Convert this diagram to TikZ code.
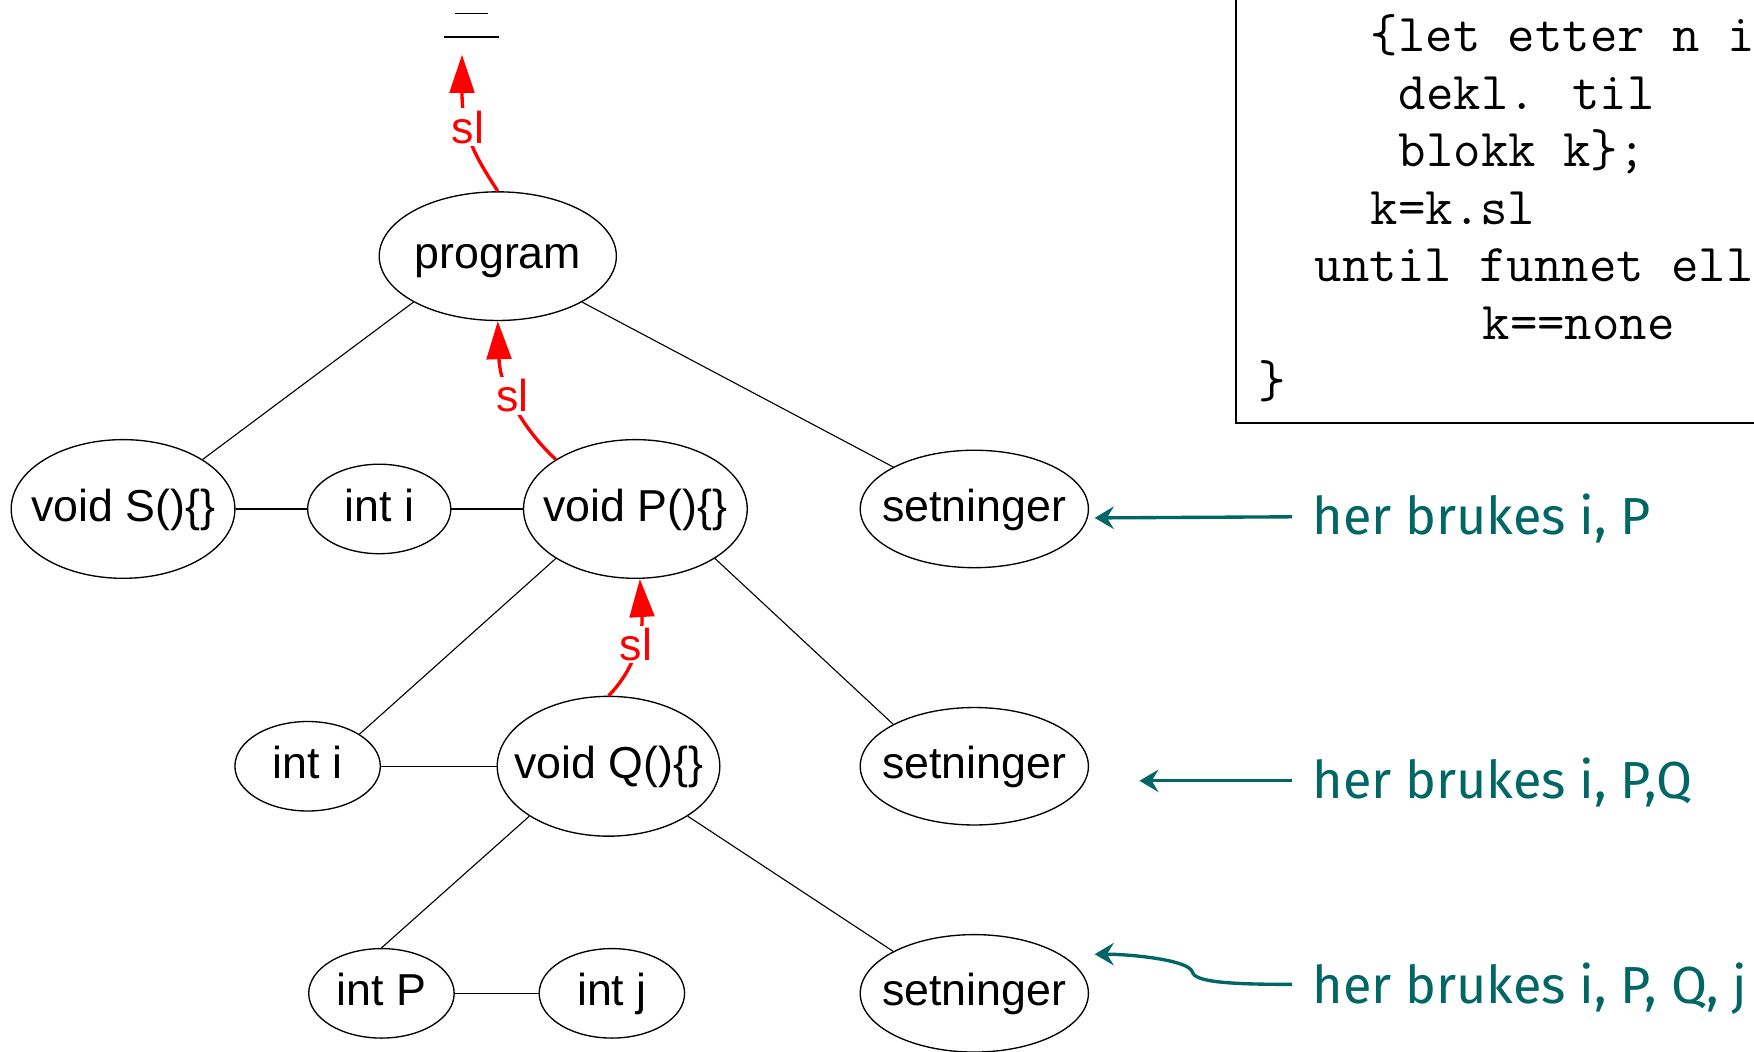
\documentclass[tikz,border=0pt]{standalone}
\usepackage{fontspec}
\setmainfont{Liberation Sans}
\newfontfamily\handfont{Fira Sans}
\usetikzlibrary{shapes.geometric,arrows.meta,calc}
\definecolor{tealann}{RGB}{0,102,102}
\begin{document}
\begin{tikzpicture}[x=0.5pt,y=-0.5pt,
 ell/.style n args={3}{ellipse,draw,line width=0.6pt,minimum width=#1*0.5pt,minimum height=#2*0.5pt,inner sep=0pt,
   label={[inner sep=0pt,text height=15pt,text depth=4pt,font=\fontsize{20}{24}\selectfont]center:#3}},
 edge/.style={line width=0.5pt},
 slarrow/.style={red,line width=1.5pt,-{Triangle[length=17pt,width=11pt]}},
 sllabel/.style={fill=white,text=red,font=\fontsize{20}{24}\selectfont,inner sep=1pt},
 annarrow/.style={tealann,line width=1.5pt,-{Stealth[length=8.5pt,width=10pt,inset=3pt]}},
 ann/.style={anchor=base west,text=tealann,inner sep=0pt,font=\handfont\fontsize{23.3}{28}\selectfont},
 code/.style={anchor=base west,inner sep=0pt,font=\ttfamily\fontsize{23.8}{28}\selectfont}]
\useasboundingbox (0,0) rectangle (1568,940);
\clip (0,0) rectangle (1568,940);

% top "none" marker
\draw[line width=0.75pt] (407,12) -- (436,12);
\draw[line width=0.75pt] (397,33) -- (446,33);
\coordinate (toptip) at (413,49);

% tree nodes
\node[ell={212}{115}{program}] (prog) at (445,229) {};
\node[ell={200}{124}{void S()\{\}}] (vS) at (110,455) {};
\node[ell={128}{80}{int i}] (i1) at (339,455) {};
\node[ell={200}{124}{void P()\{\}}] (vP) at (568,455) {};
\node[ell={204}{105}{setninger}] (s1) at (871,455) {};
\node[ell={130}{80}{int i}] (i2) at (275,685) {};
\node[ell={199}{125}{void Q()\{\}}] (vQ) at (544,685) {};
\node[ell={204}{105}{setninger}] (s2) at (871,685) {};
\node[ell={130}{80}{int P}] (iP) at (341,888) {};
\node[ell={130}{80}{int j}] (ij) at (547,888) {};
\node[ell={204}{105}{setninger}] (s3) at (871,888) {};

% tree edges
\draw[edge] (prog.south west) -- (vS.north east);
\draw[edge] (prog.south east) -- (s1.north west);
\draw[edge] (vS.east) -- (i1.west);
\draw[edge] (i1.east) -- (vP.west);
\draw[edge] (vP.south west) -- (i2.north east);
\draw[edge] (vP.south east) -- (s2.north west);
\draw[edge] (i2.east) -- (vQ.west);
\draw[edge] (vQ.south west) -- (iP.north);
\draw[edge] (vQ.south east) -- (s3.north west);
\draw[edge] (iP.east) -- (ij.west);

% static link arrows
\draw[slarrow] (prog.north) .. controls (425,140) and (413,120) .. (toptip) node[sllabel,pos=0.6] {sl};
\draw[slarrow] (vP.north west) .. controls (472,388) and (447,350) .. (prog.south) node[sllabel,pos=0.58] {sl};
\draw[slarrow] (vQ.north) .. controls (566,600) and (575,570) .. ([xshift=2pt]vP.south) node[sllabel,pos=0.55] {sl};

% code box
\draw[line width=0.9pt] (1105,-20) rectangle (1620,378);
\node[code] (c1) at (1225,46) {\{let etter n i};
\node[code] (c2) at (1250,97.5) {dekl. til};
\node[code] (c3) at (1250,149) {blokk k\};};
\node[code] (c4) at (1225,200.5) {k=k.sl};
\node[code] (c5) at (1175,252) {until funnet eller};
\node[code] (c6) at (1325,303.5) {k==none};
\node[code] (c7) at (1125,355) {\}};

% annotations
\node[ann] (a1) at (1173,478) {her brukes i, P};
\node[ann] (a2) at (1173,714) {her brukes i, P,Q};
\node[ann] (a3) at (1173,897) {her brukes i, P, Q, j};
\draw[annarrow] ($(a1.base west)+(-18,-16)$) -- ($(s1.east)+(5,8)$);
\draw[annarrow] ($(a2.base west)+(-18,-16)$) -- ($(s2.east)+(45,13)$);
\draw[annarrow] ($(a3.base west)+(-18,-17)$) .. controls (1100,880) and (1068,878) .. (1066,869) .. controls (1063,858) and (1010,853) .. ($(s3.east)+(5,-35)$);
\end{tikzpicture}
\end{document}
